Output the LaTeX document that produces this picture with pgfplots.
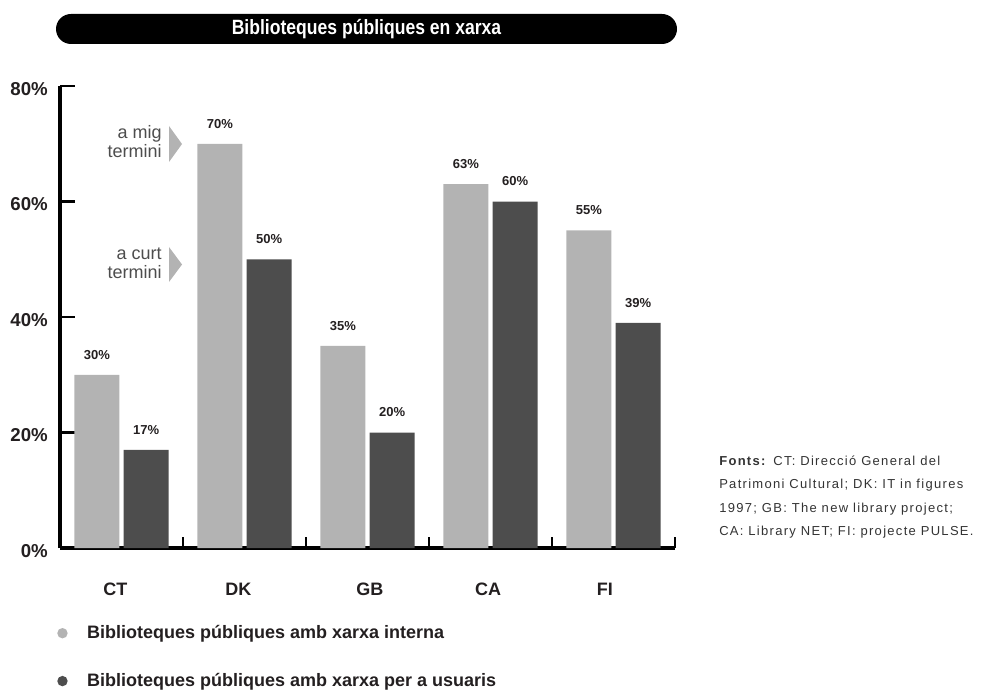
\documentclass[border=0pt]{standalone}
\usepackage{pgfplots}
\pgfplotsset{compat=1.18}
\usepackage{fontspec}
\setmainfont{Liberation Sans}
\newfontfamily\cond{Liberation Sans}[FakeStretch=0.85]
\newfontfamily\notefont{Liberation Sans}[LetterSpace=10]
\definecolor{lightbar}{HTML}{B3B3B3}
\definecolor{darkbar}{HTML}{4D4D4D}
\definecolor{ink}{HTML}{231F20}
\definecolor{note}{HTML}{333333}
\begin{document}
\begin{tikzpicture}
\path[use as bounding box] (0,0) rectangle (740.25pt,519.75pt);
\begin{axis}[
  at={(45pt,108.75pt)}, anchor=south west,
  scale only axis, width=461.25pt, height=346.5pt,
  xmin=-0.5, xmax=4.5, ymin=0, ymax=80,
  axis x line*=bottom, axis y line*=left,
  x axis line style={line width=3.4pt},
  y axis line style={line width=2.6pt},
  tick align=inside,
  major tick length=11.25pt, minor tick length=8.25pt,
  tick style={line width=1.8pt, color=black},
  ytick={0,20,40,60,80}, yticklabels={0\%,20\%,40\%,60\%,80\%},
  xtick={-0.05,0.95,2.02,2.98,3.93}, xticklabels={CT,DK,GB,CA,FI},
  major x tick style={draw=none},
  minor xtick={0.5,1.5,2.5,3.5,4.5},
  tick label style={font=\bfseries\fontsize{14}{16}\selectfont, text=ink},
  yticklabel style={anchor=east, inner sep=0pt, xshift=-9pt, yshift=-2pt},
  xticklabel style={anchor=base, inner sep=0pt, yshift=-35.25pt, font=\bfseries\fontsize{13.5}{16}\selectfont},
  /pgf/number format/assume math mode=true,
  clip=false,
  nodes near coords={\pgfmathprintnumber{\pgfplotspointmeta}\%},
  every node near coord/.append style={anchor=center, yshift=15pt, font=\bfseries\fontsize{9.75}{10}\selectfont, text=ink},
  legend style={at={(axis description cs:0,0)}, anchor=north west, xshift=-5.25pt, yshift=-54pt,
    draw=none, fill=none, font=\bfseries\fontsize{13.5}{16}\selectfont, text=ink, row sep=20.5pt},
  legend cell align=left,
]
\addplot[ybar, bar width=0.366, bar shift=0pt, fill=lightbar, draw=none,
  legend image code/.code={\path[draw=none, fill=none] (0pt,0pt) -- (20.25pt,0pt); \fill[lightbar] (3.75pt,0pt) circle (3.9pt);}]
  coordinates {(-0.2,30) (0.8,70) (1.8,35) (2.8,63) (3.8,55)};
\addlegendentry{Biblioteques públiques amb xarxa interna}
\addplot[ybar, bar width=0.366, bar shift=0pt, fill=darkbar, draw=none,
  legend image code/.code={\path[draw=none, fill=none] (0pt,0pt) -- (20.25pt,0pt); \fill[darkbar] (3.75pt,0pt) circle (3.9pt);}]
  coordinates {(0.2,17) (1.2,50) (2.2,20) (3.2,60) (4.2,39)};
\addlegendentry{Biblioteques públiques amb xarxa per a usuaris}
\end{axis}
\begin{scope}[x=0.75pt, y=-0.75pt, shift={(0pt,519.75pt)}]
  \node[fill=black, rounded corners=11.25pt, minimum width=465.75pt, minimum height=22.5pt, inner sep=0pt,
        text=white, font=\cond\bfseries\fontsize{15.5}{16}\selectfont] at (366.5,29) {Biblioteques públiques en xarxa};
  \fill[lightbar] (169,126) -- (182,144) -- (169,162) -- cycle;
  \fill[lightbar] (169,247) -- (182,264.5) -- (169,282) -- cycle;
  \begin{scope}[every node/.style={anchor=base east, inner sep=0pt, text=darkbar, font=\fontsize{13.5}{15}\selectfont}]
    \node at (162,139) {a mig};
    \node at (162,158) {termini};
    \node at (162,260) {a curt};
    \node at (162,279) {termini};
  \end{scope}
  \begin{scope}[every node/.style={anchor=base west, inner sep=0pt, text=note, font=\notefont\fontsize{9.75}{12}\selectfont}]
    \node at (719,465) {\textbf{Fonts:} CT: Direcció General del};
    \node at (719,488.5) {Patrimoni Cultural; DK: IT in figures};
    \node at (719,512) {1997; GB: The new library project;};
    \node at (719,535.5) {CA: Library NET; FI: projecte PULSE.};
  \end{scope}
\end{scope}
\end{tikzpicture}
\end{document}
